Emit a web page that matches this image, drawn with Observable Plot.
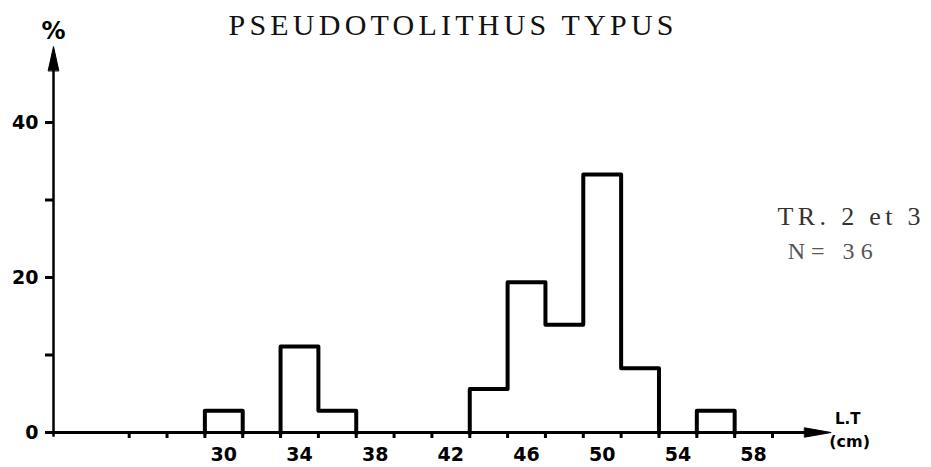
<!DOCTYPE html>
<html>
<head>
<meta charset="utf-8">
<script src="https://cdn.jsdelivr.net/npm/d3@7"></script>
<script src="https://cdn.jsdelivr.net/npm/@observablehq/plot@0.6"></script>
<style>
  html, body { margin: 0; padding: 0; background: #fff; }
  #chart { width: 931px; height: 467px; }
</style>
</head>
<body>
<div id="chart"></div>
<script>
// ---- Data ----
const binStarts = [29, 33, 35, 43, 45, 47, 49, 51, 55];      // L.T (cm), bin lower edge
const binWidth = 2;
const percents  = [2.8, 11.1, 2.8, 5.6, 19.4, 13.9, 33.3, 8.3, 2.8]; // %
const xTickEdges = [25, 27, 29, 31, 33, 35, 37, 39, 41, 43, 45, 47, 49, 51, 53, 55, 57, 59];
const xTickLabels = [30, 34, 38, 42, 46, 50, 54, 58];
const yTicks = [0, 10, 20, 30, 40];
const yTickLabels = [0, 20, 40];
const titleText = "PSEUDOTOLITHUS TYPUS";
const noteLines = ["TR. 2 et 3", "N= 36"];
const xOrigin = 21;

// Build the step outline (contiguous bins share one outline, as in the original)
const outline = [];
let group = 0;
for (let i = 0; i < binStarts.length; i++) {
  const x0 = binStarts[i], x1 = x0 + binWidth, v = percents[i];
  const contiguous = i > 0 && binStarts[i - 1] + binWidth === x0;
  if (!contiguous) {
    group++;
    outline.push({x: x0, y: 0, g: group});
  }
  outline.push({x: x0, y: v, g: group});
  outline.push({x: x1, y: v, g: group});
  const nextContig = i < binStarts.length - 1 && binStarts[i + 1] === x1;
  if (!nextContig) outline.push({x: x1, y: 0, g: group});
}

// Filled arrow heads of the two axes (axis units)
const headX = [{x: 60.7, y: -0.6}, {x: 62.1, y: 0}, {x: 60.7, y: 0.6}];
const headY = [{x: xOrigin - 0.28, y: 46.7}, {x: xOrigin, y: 49.8}, {x: xOrigin + 0.28, y: 46.7}];

const sans = "DejaVu Sans";
const chart = Plot.plot({
  width: 931,
  height: 467,
  marginLeft: 53,
  marginRight: 159,
  marginTop: 122,
  marginBottom: 35,
  x: {domain: [xOrigin, 59], axis: null},
  y: {domain: [0, 40], axis: null},
  style: {background: "#fff", color: "#000", fontFamily: sans},
  marks: [
    // axes lines
    Plot.ruleY([0], {x1: xOrigin - 0.2, x2: 61, stroke: "#000", strokeWidth: 3}),
    Plot.ruleX([xOrigin], {y1: -0.6, y2: 47, stroke: "#000", strokeWidth: 2.5}),
    Plot.line(headX, {x: "x", y: "y", fill: "#000", stroke: "#000", strokeWidth: 1, curve: "linear-closed"}),
    Plot.line(headY, {x: "x", y: "y", fill: "#000", stroke: "#000", strokeWidth: 1, curve: "linear-closed"}),
    // x ticks (bin edges)
    Plot.axisX({ticks: xTickEdges, tickSize: 6, strokeWidth: 3, tickFormat: () => "", anchor: "bottom", label: null}),
    Plot.axisX({ticks: xTickLabels, tickSize: 0, tickPadding: 15, fontSize: 19, fontWeight: "bold", fontFamily: sans, anchor: "bottom", label: null}),
    // y ticks
    Plot.axisY({ticks: yTicks, tickSize: 8, strokeWidth: 3, tickFormat: () => "", anchor: "left", label: null}),
    Plot.axisY({ticks: yTickLabels, tickSize: 0, tickPadding: 15, fontSize: 19, fontWeight: "bold", fontFamily: sans, anchor: "left", label: null}),
    // histogram outline
    Plot.line(outline, {x: "x", y: "y", z: "g", stroke: "#000", strokeWidth: 4, strokeLinejoin: "round", strokeLinecap: "square"}),
    // axis labels
    Plot.text(["%"], {x: xOrigin, y: 51.8, text: d => d, fontSize: 24, fontWeight: "bold", fontFamily: sans}),
    Plot.text(["L.T"], {x: 62.3, y: 1.7, text: d => d, textAnchor: "start", fontSize: 15, fontWeight: "bold", fontFamily: sans}),
    Plot.text(["(cm)"], {x: 62.0, y: -1.2, text: d => d, textAnchor: "start", fontSize: 16, fontWeight: "bold", fontFamily: sans}),
    // title and notes
    Plot.text([titleText], {x: 30.25, y: 52.5, text: d => d, textAnchor: "start", fontSize: 30, fontFamily: "Liberation Serif", fill: "#111"}),
    Plot.text([noteLines[0]], {x: 59.27, y: 27.9, text: d => d, textAnchor: "start", fontSize: 26, fontFamily: "Liberation Serif", fill: "#333"}),
    Plot.text([noteLines[1]], {x: 59.8, y: 23.4, text: d => d, textAnchor: "start", fontSize: 24, fontFamily: "Liberation Serif", fill: "#555"})
  ]
});
document.getElementById("chart").appendChild(chart);

// typewriter-like spacing for the annotation texts
const stretch = {[titleText]: 445, [noteLines[0]]: 143, [noteLines[1]]: 85};
d3.select(chart).selectAll("text").each(function() {
  const t = this.textContent;
  if (stretch[t]) d3.select(this).attr("textLength", stretch[t]).attr("lengthAdjust", "spacing");
});
</script>
</body>
</html>
